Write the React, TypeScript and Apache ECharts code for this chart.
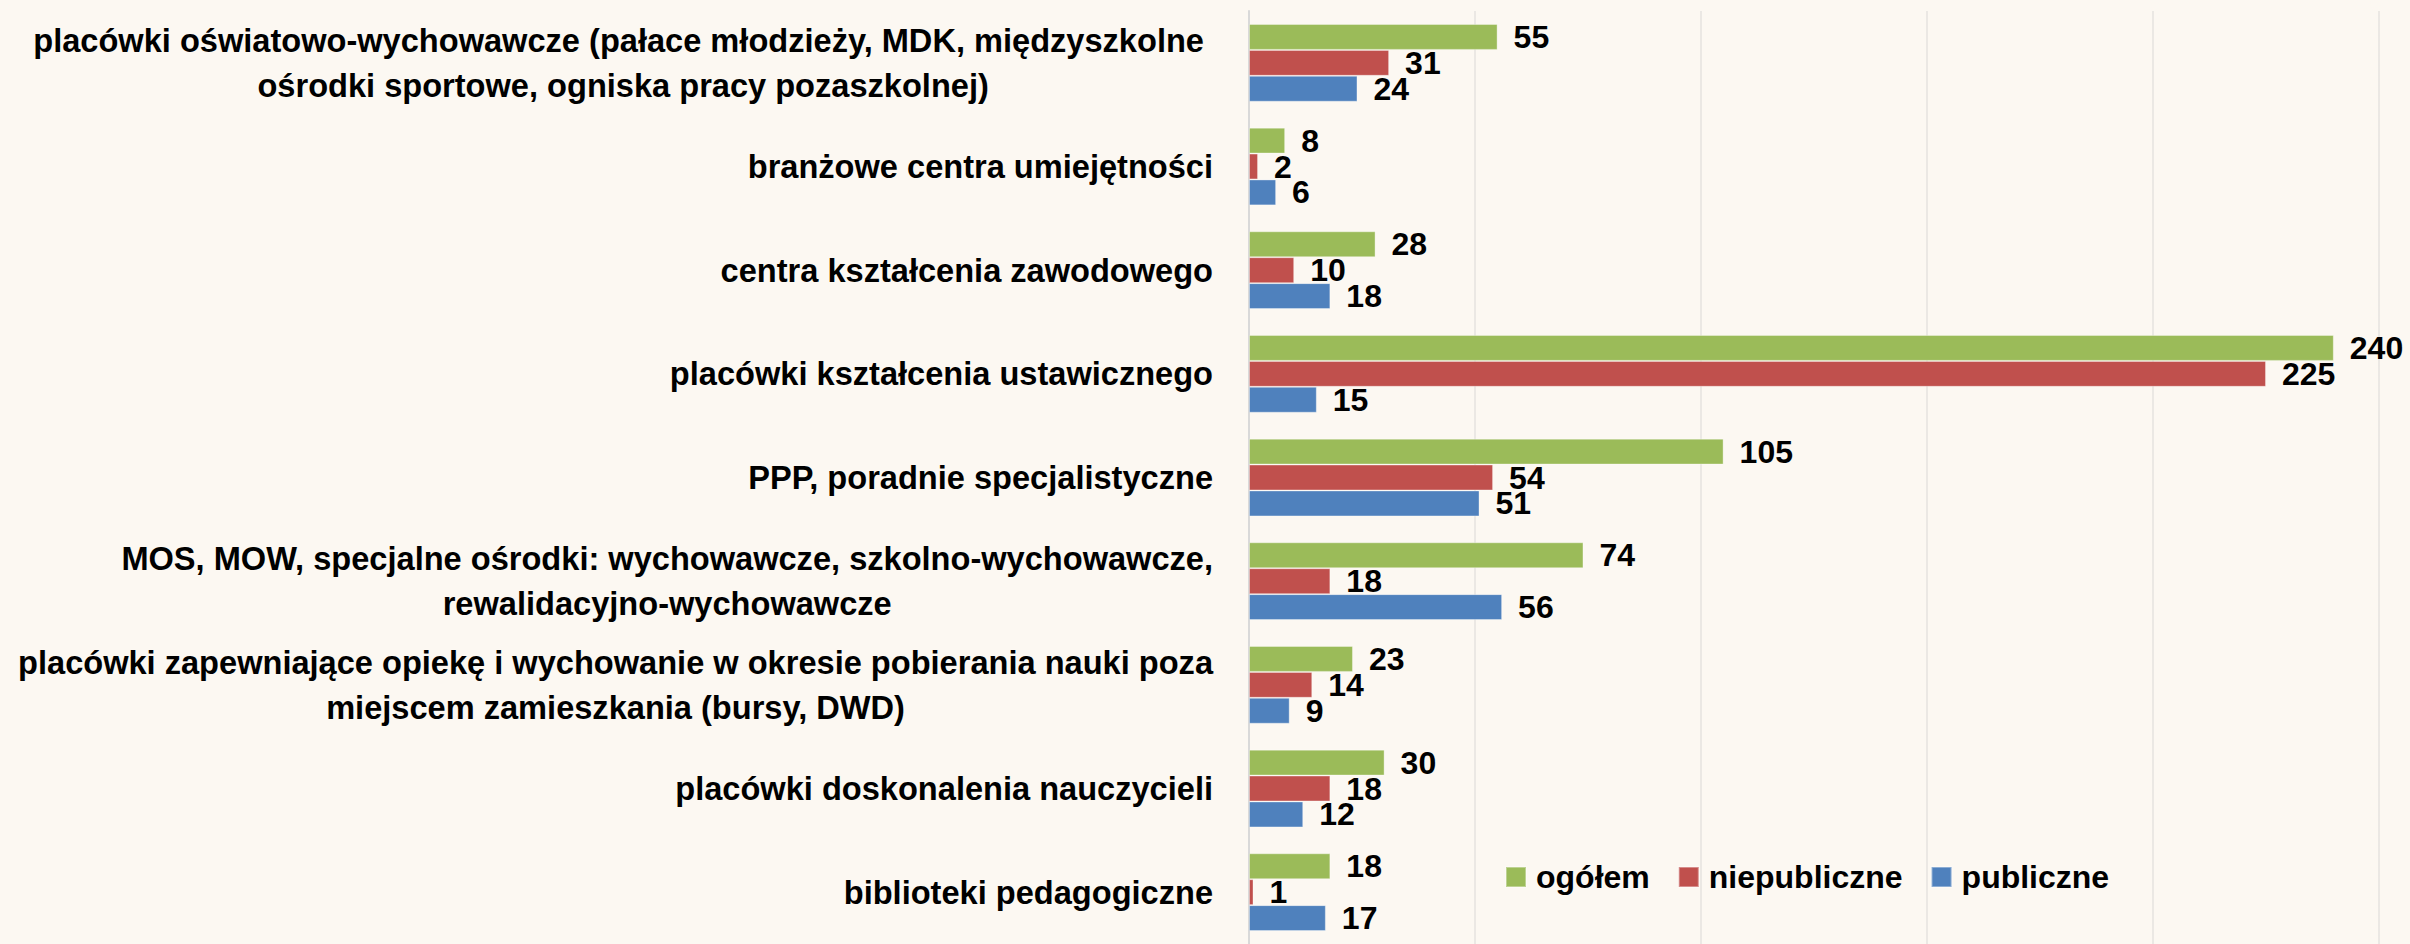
import React, { useEffect, useRef } from "react";
import * as echarts from "echarts";

const categories = [
  "placówki oświatowo-wychowawcze (pałace młodzieży, MDK, międzyszkolne \nośrodki sportowe, ogniska pracy pozaszkolnej)",
  "branżowe centra umiejętności",
  "centra kształcenia zawodowego",
  "placówki kształcenia ustawicznego",
  "PPP, poradnie specjalistyczne",
  "MOS, MOW, specjalne ośrodki: wychowawcze, szkolno-wychowawcze,\nrewalidacyjno-wychowawcze",
  "placówki zapewniające opiekę i wychowanie w okresie pobierania nauki poza\nmiejscem zamieszkania (bursy, DWD)",
  "placówki doskonalenia nauczycieli",
  "biblioteki pedagogiczne",
];

const ogolem = [55, 8, 28, 240, 105, 74, 23, 30, 18];
const niepubliczne = [31, 2, 10, 225, 54, 18, 14, 18, 1];
const publiczne = [24, 6, 18, 15, 51, 56, 9, 12, 17];

const seriesNames = ["ogółem", "niepubliczne", "publiczne"];
const seriesColors = ["#9BBB59", "#C0504D", "#4F81BD"];

const FONT = '"Liberation Sans", Arial, sans-serif';

export default function App() {
  const ref = useRef<HTMLDivElement>(null);
  useEffect(() => {
    document.body.style.margin = "0";
    const chart = echarts.init(ref.current!, null, { renderer: "svg" });
    const values = [ogolem, niepubliczne, publiczne];
    chart.setOption({
      animation: false,
      backgroundColor: "#FCF8F2",
      textStyle: { fontFamily: FONT },
      grid: { left: 1249, right: 31, top: 11, height: 940, containLabel: false },
      legend: {
        left: 1500,
        top: 856,
        itemWidth: 20,
        itemHeight: 20,
        itemGap: 28,
        icon: "rect",
        data: seriesNames,
        textStyle: {
          fontFamily: FONT,
          fontSize: 32,
          fontWeight: "bold",
          color: "#000",
          padding: [0, 0, 0, 5],
        },
      },
      xAxis: {
        type: "value",
        min: 0,
        max: 250,
        interval: 50,
        axisLabel: { show: false },
        axisLine: { show: false },
        axisTick: { show: false },
        splitLine: { lineStyle: { color: "#EBE8E4", width: 2 } },
      },
      yAxis: {
        type: "category",
        inverse: true,
        data: categories,
        axisTick: { show: false },
        axisLine: { show: true, lineStyle: { color: "#D9D9D9", width: 2 } },
        axisLabel: {
          margin: 36,
          align: "right",
          formatter: (v: string) =>
            v
              .split("\n")
              .map((l) => `{c|${l}}`)
              .join("\n"),
          rich: {
            c: {
              align: "center",
              fontFamily: FONT,
              fontSize: 32.6,
              fontWeight: "bold",
              color: "#000",
              lineHeight: 45,
            },
          },
        },
      },
      series: values.map((d, i) => ({
        name: seriesNames[i],
        type: "bar",
        data: d,
        barGap: "0%",
        barCategoryGap: "25%",
        itemStyle: { color: seriesColors[i], borderColor: "rgba(255,255,255,0.35)", borderWidth: 1 },
        label: {
          show: true,
          position: "right",
          distance: 16,
          fontFamily: FONT,
          fontSize: 32,
          fontWeight: "bold",
          color: "#000",
        },
      })),
    });
    return () => chart.dispose();
  }, []);
  return <div ref={ref} style={{ width: 2410, height: 944 }} />;
}
